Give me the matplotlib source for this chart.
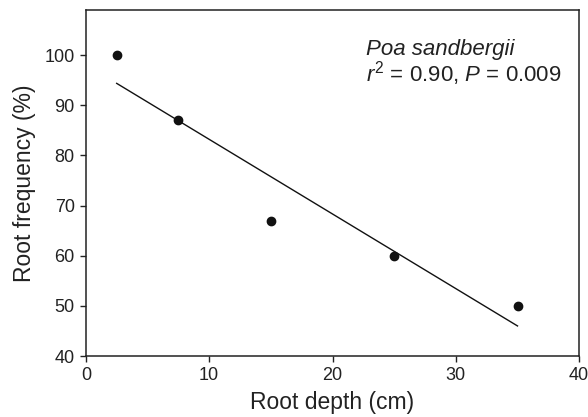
import numpy as np
import matplotlib
matplotlib.use("Agg")
import matplotlib.pyplot as plt

# Root frequency vs. depth for Poa sandbergii
depth_cm = [2.5, 7.5, 15, 25, 35]
root_freq = [100, 87, 67, 60, 50]
x_ticks = [0, 10, 20, 30, 40]
y_ticks = [40, 50, 60, 70, 80, 90, 100]
species = "Poa sandbergii"
stats_label = r"$r^{\mathregular{2}}$ = 0.90, $P$ = 0.009"

plt.rcParams["font.family"] = ["Liberation Sans", "DejaVu Sans"]
plt.rcParams["mathtext.fontset"] = "custom"
plt.rcParams["mathtext.rm"] = "Liberation Sans"
plt.rcParams["mathtext.it"] = "Liberation Sans:italic"

fig = plt.figure(figsize=(5.88, 4.17), dpi=100)
ax = fig.add_axes([0.146, 0.146, 0.839, 0.830])

# least squares line over the sampled depth range
slope, intercept = np.polyfit(depth_cm, root_freq, 1)
xs = np.array([min(depth_cm), max(depth_cm)])
ax.plot(xs, intercept + slope * xs, color="#111111", lw=1.0)
ax.plot(depth_cm, root_freq, "o", color="#111111", ms=6, zorder=3)

ax.set_xlim(0, 40)
ax.set_ylim(40, 109)
ax.set_xticks(x_ticks)
ax.set_yticks(y_ticks)
ax.tick_params(direction="out", length=4, width=1.0, labelsize=13, colors="#222222", pad=4)
for sp in ax.spines.values():
    sp.set_linewidth(1.1)
    sp.set_color("#222222")

ax.set_xlabel("Root depth (cm)", fontsize=16.5, color="#222222", labelpad=5)
ax.set_ylabel("Root frequency (%)", fontsize=16.5, color="#222222", labelpad=6)

ax.text(22.7, 100, species, style="italic", fontsize=16, va="baseline", color="#222222")
ax.text(22.7, 94.8, stats_label, fontsize=16, va="baseline", color="#222222")

fig.savefig("out.png", dpi=100)
